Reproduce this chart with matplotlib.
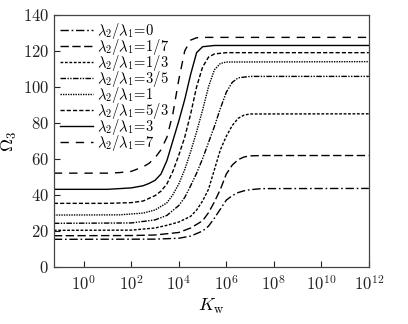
import numpy as np
import matplotlib
matplotlib.use("Agg")
import matplotlib.pyplot as plt

plt.rcParams['mathtext.fontset'] = 'cm'
plt.rcParams['font.family'] = ['DejaVu Serif']

# ratio labels
ratios = ["0", "1/7", "1/3", "3/5", "1", "5/3", "3", "7"]

# log10(K_w) sample positions and Omega_3 values
lk_0 = [-1.26, 3, 4, 4.5, 5, 5.25, 5.5, 5.75, 6, 6.25, 6.5, 6.75, 7, 7.5, 12]
om_0 = [15.2, 15.3, 15.8, 17, 19.8, 22.5, 27, 32, 37, 39.5, 41.2, 42.2, 42.8, 43.4, 43.5]

lk_17 = [-1.26, 2, 3, 4, 4.5, 5, 5.25, 5.5, 5.75, 6, 6.25, 6.5, 6.75, 7, 7.5, 12]
om_17 = [17.2, 17.3, 17.6, 19, 21.5, 25.5, 30, 36, 43, 51.5, 56.5, 59.5, 61, 61.6, 61.8, 61.8]

lk_13 = [-1.26, 2, 3, 3.5, 4, 4.5, 4.75, 5, 5.25, 5.5, 5.75, 6, 6.25, 6.5, 6.75, 7, 12]
om_13 = [20.2, 20.3, 21.5, 23, 24.8, 28, 31.5, 36.5, 43, 54, 65, 72.5, 78.5, 82.5, 84.3, 84.9, 85]

lk_35 = [-1.26, 2, 3, 3.5, 4, 4.25, 4.5, 4.75, 5, 5.25, 5.5, 5.75, 6, 6.25, 6.5, 7, 12]
om_35 = [24.1, 24.3, 26, 28.5, 34, 38.5, 45, 52, 60, 69, 78, 88, 97, 102.5, 105, 105.8, 105.8]

lk_1 = [-1.26, 1.5, 2.5, 3, 3.5, 3.75, 4, 4.25, 4.5, 4.75, 5, 5.25, 5.5, 5.75, 6, 12]
om_1 = [28.7, 28.8, 29.8, 31.5, 35.5, 40, 46, 54, 64, 75, 87, 100, 109.5, 113, 113.8, 114]

lk_53 = [-1.26, 1, 2, 2.5, 3, 3.25, 3.5, 3.75, 4, 4.25, 4.5, 4.75, 5, 5.25, 5.5, 6, 12]
om_53 = [35.2, 35.2, 35.6, 36.5, 39.5, 42, 46, 53, 62, 72, 85, 100, 111, 116.5, 118.3, 119, 119]

lk_3 = [-1.26, 1, 2, 2.5, 2.75, 3, 3.25, 3.5, 3.75, 4, 4.25, 4.5, 4.75, 5, 5.5, 12]
om_3 = [43, 43, 43.8, 45, 46.3, 48, 51.5, 59, 70, 81, 93, 107, 119, 122.3, 123, 123]

lk_7 = [-1.26, 1, 1.5, 2, 2.5, 2.75, 3, 3.25, 3.5, 3.75, 4, 4.25, 4.5, 4.75, 5, 12]
om_7 = [52, 52, 52.3, 53, 55.5, 57.5, 60.5, 65, 72, 85, 104, 120, 126, 127.3, 127.5, 127.5]

series_lk = [lk_0, lk_17, lk_13, lk_35, lk_1, lk_53, lk_3, lk_7]
series_om = [om_0, om_17, om_13, om_35, om_1, om_53, om_3, om_7]

styles = [(0, (6, 2, 1.2, 2)),
          (0, (6, 2.5)),
          (0, (2, 1.2)),
          (0, (4, 1, 1, 1, 1, 1)),
          (0, (1, 0.8)),
          (0, (3, 1.5)),
          '-',
          (0, (6, 5))]

yticks = [0, 20, 40, 60, 80, 100, 120, 140]
xtick_exp = [0, 2, 4, 6, 8, 10, 12]

fig = plt.figure(figsize=(4.08, 3.24), dpi=100)
ax = fig.add_axes([0.132, 0.177, 0.772, 0.777])

for lk, om, ls, r in zip(series_lk, series_om, styles, ratios):
    ax.plot(10.0 ** np.array(lk), om, color='black', lw=1.0, linestyle=ls,
            label=r'$\lambda_2/\lambda_1\!=\!%s$' % r)

ax.set_xscale('log')
ax.set_xlim(10 ** -1.26, 10 ** 12)
ax.set_ylim(0, 140)
ax.set_xticks([10.0 ** e for e in xtick_exp])
ax.set_xticklabels([r'$10^{%d}$' % e for e in xtick_exp])
ax.xaxis.set_minor_locator(matplotlib.ticker.NullLocator())
ax.set_yticks(yticks)
ax.set_yticklabels([r'$%d$' % v for v in yticks])
ax.tick_params(direction='in', length=4, width=0.8, labelsize=12, colors='#222222')
ax.tick_params(axis='x', pad=6)
for s in ax.spines.values():
    s.set_linewidth(0.9)
    s.set_color('#444444')

ax.set_xlabel(r'$K_{\rm w}$', fontsize=13, labelpad=2)
ax.set_ylabel(r'$\Omega_3$', fontsize=13, labelpad=3)

leg = ax.legend(loc='upper left', frameon=False, fontsize=10.5, handlelength=2.2,
                labelspacing=-0.28, handletextpad=0.3, borderaxespad=0.25,
                borderpad=0.2)

fig.savefig('out.png', dpi=100)
